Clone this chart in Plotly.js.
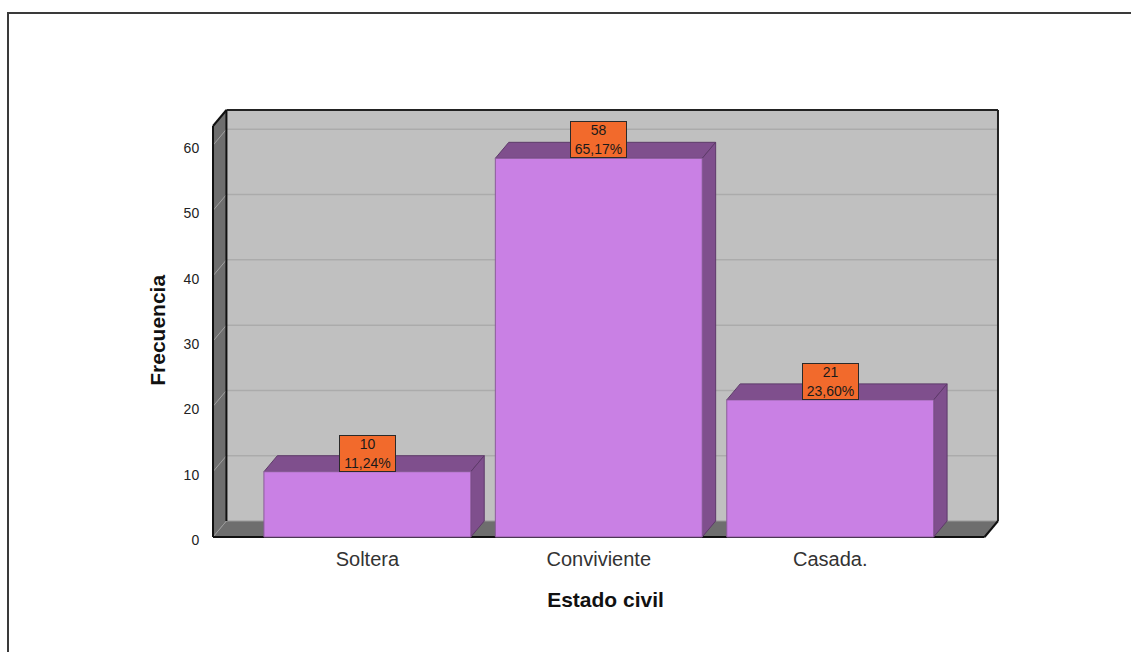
<!DOCTYPE html>
<html>
<head>
<meta charset="utf-8">
<script src="https://cdn.plot.ly/plotly-3.0.1.min.js"></script>
<style>
  html, body { margin: 0; padding: 0; background: #fff; }
  #wrap { position: relative; width: 1131px; height: 652px; overflow: hidden; }
  #chart { position: absolute; left: 0; top: 0; width: 1131px; height: 652px; }
  #frame { position: absolute; left: 7px; top: 12px; width: 1200px; height: 700px;
           border-left: 2px solid #3a3a3a; border-top: 2px solid #3a3a3a; pointer-events: none; }
</style>
</head>
<body>
<div id="wrap">
  <div id="chart"></div>
  <div id="frame"></div>
</div>
<script>
// ---- data ----
const categories = ['Soltera', 'Conviviente', 'Casada.'];
const frequencies = [10, 58, 21];
const percentLabels = ['11,24%', '65,17%', '23,60%'];
const yTickValues = [0, 10, 20, 30, 40, 50, 60];

// ---- geometry / style constants ----
const X0 = -0.667, X1 = 2.667;   // front plane x extent
const DX = 0.058, DY = 2.45;     // depth offset (axis units)
const YTOP = 62.95;              // front wall top
const BARW = 0.894;
const PADX = 0.013, PADY = 0.46; // small range padding so edge lines are not clipped
const FONT = 'Arial, "Liberation Sans", Helvetica, sans-serif';

const xs = categories.map((c, i) => i);

function poly(pts) {
  return 'M' + pts.map(p => p[0] + ',' + p[1]).join(' L') + ' Z';
}
const shapes = [];
function addPath(pts, fill, lineColor, lineWidth) {
  shapes.push({type: 'path', xref: 'x', yref: 'y', layer: 'below', path: poly(pts),
    fillcolor: fill, line: {color: lineColor || 'rgba(0,0,0,0)', width: lineWidth || 0}});
}
function addLine(x0, y0, x1, y1, color, width) {
  shapes.push({type: 'line', xref: 'x', yref: 'y', layer: 'below', x0, y0, x1, y1,
    line: {color, width}});
}

// walls
addPath([[X0 + DX, DY], [X1 + DX, DY], [X1 + DX, YTOP + DY], [X0 + DX, YTOP + DY]], '#C0C0C0');
addPath([[X0, 0], [X0 + DX, DY], [X0 + DX, YTOP + DY], [X0, YTOP]], '#6E6E6E');
addPath([[X0, 0], [X1, 0], [X1 + DX, DY], [X0 + DX, DY]], '#6E6E6E');

// gridlines
yTickValues.forEach(v => {
  if (v === 0) return;
  addLine(X0 + DX, v + DY, X1 + DX, v + DY, '#ABABAB', 1.5);
  addLine(X0, v, X0 + DX, v + DY, '#A0A0A0', 1);
});
// floor back edge / floor-left seam
addLine(X0 + DX, DY, X1 + DX, DY, '#9A9A9A', 1);
addLine(X0, 0, X0 + DX, DY, '#9A9A9A', 1);

// wall edges
addLine(X0 + DX, DY, X0 + DX, YTOP + DY, '#111', 2);
addLine(X0 + DX, YTOP + DY, X1 + DX, YTOP + DY, '#222', 2);
addLine(X1 + DX, DY, X1 + DX, YTOP + DY, '#222', 2);
addLine(X0, 0, X0, YTOP, '#111', 2);
addLine(X0, YTOP, X0 + DX, YTOP + DY, '#111', 2);
addLine(X0, 0, X1, 0, '#111', 2);
addLine(X1, 0, X1 + DX, DY, '#111', 2);

// bar depth faces
frequencies.forEach((v, i) => {
  const xl = xs[i] - BARW / 2, xr = xs[i] + BARW / 2;
  addPath([[xl, v], [xr, v], [xr + DX, v + DY], [xl + DX, v + DY]], '#7F4F8D', '#5E3A6A', 1);
  addPath([[xr, 0], [xr + DX, DY], [xr + DX, v + DY], [xr, v]], '#7F4F8D', '#5E3A6A', 1);
});

const annotations = frequencies.map((v, i) => ({
  x: xs[i], y: v, xref: 'x', yref: 'y', yanchor: 'bottom', xanchor: 'center',
  text: v + '<br>' + percentLabels[i], showarrow: false,
  bgcolor: '#F26A2C', bordercolor: '#2a2a2a', borderwidth: 1, borderpad: 1,
  width: 53, height: 33,
  font: {family: FONT, size: 14, color: '#1a1a1a'}
}));

// y axis title as annotation (placed lower than axis centre, as in reference)
annotations.push({
  xref: 'paper', yref: 'paper', x: -0.066, y: 0.485, xanchor: 'center', yanchor: 'middle',
  text: 'Frecuencia', textangle: -90, showarrow: false,
  font: {family: FONT, size: 21, color: '#111', weight: 'bold'}
});

const trace = {
  type: 'bar', x: xs, y: frequencies, width: BARW,
  marker: {color: '#C980E4', line: {color: '#8A5C99', width: 1}},
  hoverinfo: 'skip', showlegend: false
};

const layout = {
  width: 1131, height: 652,
  margin: {l: 210, r: 130, t: 107, b: 112, pad: 0},
  paper_bgcolor: '#fff', plot_bgcolor: 'rgba(0,0,0,0)',
  showlegend: false,
  font: {family: FONT},
  xaxis: {
    range: [X0 - PADX, X1 + DX + PADX], tickvals: xs, ticktext: categories,
    showgrid: false, zeroline: false, showline: false,
    ticks: 'outside', ticklen: 1, tickcolor: 'rgba(0,0,0,0)',
    tickfont: {family: FONT, size: 20, color: '#333'},
    title: {text: 'Estado civil', standoff: 23,
      font: {family: FONT, size: 21, color: '#111', weight: 'bold'}},
    fixedrange: true
  },
  yaxis: {
    range: [-PADY, YTOP + DY + PADY], tickvals: yTickValues,
    showgrid: false, zeroline: false, showline: false,
    ticks: 'outside', ticklen: 7, tickcolor: 'rgba(0,0,0,0)',
    ticklabelshift: 3,
    tickfont: {family: FONT, size: 14, color: '#222'},
    fixedrange: true
  },
  shapes, annotations
};

Plotly.newPlot('chart', [trace], layout, {staticPlot: true, displayModeBar: false});
</script>
</body>
</html>
